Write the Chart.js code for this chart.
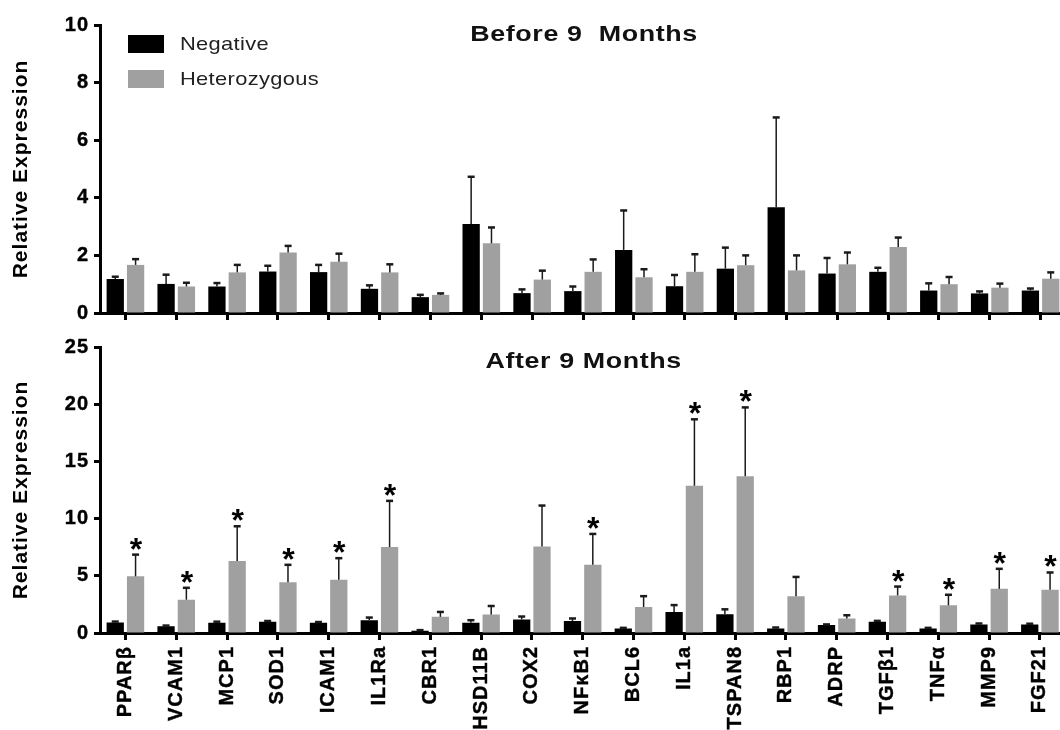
<!DOCTYPE html>
<html>
<head>
<meta charset="utf-8">
<title>Relative Expression – Before / After 9 Months</title>
<script src="https://cdn.jsdelivr.net/npm/chart.js@4.4.0/dist/chart.umd.min.js"></script>
<style>
  html, body { margin: 0; padding: 0; background: #fff; overflow: hidden; width: 1060px; height: 730px; }
  #wrap { position: relative; width: 1060px; height: 730px; overflow: hidden; }
  canvas { position: absolute; left: 0; }
  #before { top: 0; }
  #after { top: 330px; }
</style>
</head>
<body>
<div id="wrap">
  <canvas id="before" width="1070" height="330"></canvas>
  <canvas id="after" width="1070" height="400"></canvas>
</div>
<script>
// ---- data -------------------------------------------------------------
const genes = ['PPARβ', 'VCAM1', 'MCP1', 'SOD1', 'ICAM1', 'IL1Ra', 'CBR1', 'HSD11B', 'COX2',
               'NFκB1', 'BCL6', 'IL1a', 'TSPAN8', 'RBP1', 'ADRP', 'TGFβ1', 'TNFα', 'MMP9', 'FGF21'];

const seriesNames = ['Negative', 'Heterozygous'];

// Before 9 months: mean and SEM
const beforeNegative    = [1.18, 1.01, 0.92, 1.44, 1.42, 0.84, 0.55, 3.09, 0.69, 0.76, 2.19, 0.93, 1.54, 3.67, 1.37, 1.43, 0.78, 0.68, 0.78];
const beforeNegativeSem = [0.08, 0.32, 0.12, 0.20, 0.25, 0.12, 0.08, 1.64, 0.13, 0.16, 1.37, 0.39, 0.73, 3.12, 0.54, 0.14, 0.25, 0.07, 0.07];
const beforeHetero      = [1.67, 0.92, 1.41, 2.10, 1.78, 1.41, 0.63, 2.42, 1.16, 1.43, 1.24, 1.43, 1.66, 1.48, 1.69, 2.29, 1.00, 0.88, 1.19];
const beforeHeteroSem   = [0.20, 0.13, 0.26, 0.23, 0.28, 0.28, 0.05, 0.55, 0.31, 0.43, 0.28, 0.61, 0.34, 0.52, 0.41, 0.33, 0.25, 0.14, 0.22];

// After 9 months: mean and SEM
const afterNegative     = [0.92, 0.60, 0.89, 0.98, 0.89, 1.12, 0.20, 0.89, 1.18, 1.04, 0.40, 1.84, 1.64, 0.40, 0.69, 0.98, 0.40, 0.75, 0.75];
const afterNegativeSem  = [0.08, 0.05, 0.10, 0.07, 0.07, 0.23, 0.05, 0.23, 0.26, 0.23, 0.05, 0.60, 0.43, 0.08, 0.06, 0.08, 0.05, 0.08, 0.06];
const afterHetero       = [4.95, 2.91, 6.30, 4.43, 4.66, 7.51, 1.41, 1.61, 7.57, 5.96, 2.27, 12.87, 13.70, 3.22, 1.27, 3.28, 2.42, 3.86, 3.77];
const afterHeteroSem    = [1.90, 1.04, 3.03, 1.53, 1.88, 4.04, 0.43, 0.75, 3.57, 2.70, 0.95, 5.81, 6.02, 1.68, 0.28, 0.78, 0.92, 1.75, 1.52];

// significance markers (*) on the heterozygous bars after 9 months
const afterSignificant  = [1, 1, 1, 1, 1, 1, 0, 0, 0, 1, 0, 1, 1, 0, 0, 1, 1, 1, 1];

// y-axis tick labels
const beforeTicks = [0, 2, 4, 6, 8, 10];
const afterTicks  = [0, 5, 10, 15, 20, 25];

// ---- styling ----------------------------------------------------------
const FONT = '"Liberation Sans", Arial, Helvetica, sans-serif';
const BLACK = '#000000';
const GREY = '#a0a0a0';

// scale text is drawn slightly tracked out
const trackedScales = {
  id: 'trackedScales',
  beforeDraw(chart) { chart.ctx.letterSpacing = '1px'; },
  beforeDatasetsDraw(chart) { chart.ctx.letterSpacing = '0px'; }
};

// SEM whiskers (upper only) and significance stars
const errorBars = {
  id: 'errorBars',
  afterDatasetsDraw(chart) {
    const ctx = chart.ctx;
    const yScale = chart.scales.y;
    ctx.save();
    ctx.letterSpacing = '0px';
    chart.data.datasets.forEach((ds, d) => {
      const meta = chart.getDatasetMeta(d);
      meta.data.forEach((bar, i) => {
        const top = yScale.getPixelForValue(ds.data[i] + ds.errors[i]);
        ctx.strokeStyle = '#1a1a1a';
        ctx.lineWidth = 1.5;
        ctx.beginPath();
        ctx.moveTo(bar.x, bar.y);
        ctx.lineTo(bar.x, top);
        ctx.stroke();
        ctx.lineWidth = 2.5;
        ctx.beginPath();
        ctx.moveTo(bar.x - 3.5, top);
        ctx.lineTo(bar.x + 3.5, top);
        ctx.stroke();
        if (ds.significant && ds.significant[i]) {
          ctx.fillStyle = '#000';
          ctx.font = 'bold 32px ' + FONT;
          ctx.textAlign = 'center';
          ctx.textBaseline = 'alphabetic';
          ctx.fillText('*', bar.x + 0.5, top + 5);
        }
      });
    });
    ctx.restore();
  }
};

// draws text widened horizontally around an anchor point
function wideText(ctx, text, x, y, stretch, align) {
  ctx.save();
  ctx.translate(x, y);
  ctx.scale(stretch, 1);
  ctx.textAlign = align;
  ctx.fillText(text, 0, 0);
  ctx.restore();
}

// panel heading drawn inside the plot area
const panelTitle = {
  id: 'panelTitle',
  afterDraw(chart, args, opts) {
    if (!opts.text) return;
    const ctx = chart.ctx;
    const area = chart.chartArea;
    ctx.save();
    ctx.letterSpacing = '0.5px';
    ctx.font = 'bold 22px ' + FONT;
    ctx.fillStyle = '#111';
    ctx.textBaseline = 'middle';
    wideText(ctx, opts.text, (area.left + area.right) / 2 + 1, area.top + opts.offset, 1.22, 'center');
    ctx.restore();
  }
};

// legend with wide swatches in the upper-left corner of the plot
const boxLegend = {
  id: 'boxLegend',
  afterDraw(chart, args, opts) {
    if (!opts.display) return;
    const ctx = chart.ctx;
    const area = chart.chartArea;
    ctx.save();
    ctx.letterSpacing = '0.3px';
    ctx.font = '19px ' + FONT;
    ctx.textBaseline = 'middle';
    chart.data.datasets.forEach((ds, d) => {
      const x = area.left + 28;
      const y = area.top + 10 + d * 35;
      ctx.fillStyle = ds.backgroundColor;
      ctx.fillRect(x, y, 36, 18);
      ctx.fillStyle = '#222';
      wideText(ctx, ds.label, x + 52, y + 9.5, 1.15, 'left');
    });
    ctx.restore();
  }
};

function panel(canvasId, negative, negativeSem, hetero, heteroSem, significant, ticks, opts) {
  const step = ticks[1] - ticks[0];
  return new Chart(document.getElementById(canvasId), {
    type: 'bar',
    data: {
      labels: genes,
      datasets: [
        { label: seriesNames[0], data: negative, errors: negativeSem, backgroundColor: BLACK,
          borderWidth: 0, barPercentage: 0.85, categoryPercentage: 0.8 },
        { label: seriesNames[1], data: hetero, errors: heteroSem, significant: significant,
          backgroundColor: GREY, borderWidth: 0, barPercentage: 0.85, categoryPercentage: 0.8 }
      ]
    },
    options: {
      responsive: false,
      devicePixelRatio: 1,
      animation: false,
      events: [],
      layout: { padding: { top: opts.padTop, right: 4, left: 0, bottom: 0 } },
      plugins: {
        legend: { display: false },
        tooltip: { enabled: false },
        title: { display: false },
        panelTitle: { text: opts.title, offset: opts.titleOffset },
        boxLegend: { display: opts.legend }
      },
      scales: {
        x: {
          offset: true,
          grid: { display: true, offset: false, drawOnChartArea: false, drawTicks: true,
                  tickLength: 7, tickWidth: 3, tickColor: '#000', color: '#000' },
          border: { display: true, color: '#000', width: 3 },
          ticks: {
            display: opts.showLabels,
            autoSkip: false,
            minRotation: 90,
            maxRotation: 90,
            padding: 6,
            color: '#000',
            textStrokeColor: '#000',
            textStrokeWidth: 0.4,
            font: { family: FONT, size: 20, weight: 'bold' }
          },
          afterFit(scale) { scale.height = opts.xHeight; }
        },
        y: {
          min: ticks[0],
          max: ticks[ticks.length - 1],
          ticks: { stepSize: step, color: '#000', padding: 5,
                   textStrokeColor: '#000', textStrokeWidth: 0.4,
                   font: { family: FONT, size: 20, weight: 'bold' } },
          grid: { display: true, drawOnChartArea: false, drawTicks: true,
                  tickLength: 6, tickWidth: 3, tickColor: '#000', color: '#000' },
          border: { display: true, color: '#000', width: 3 },
          title: { display: true, text: 'Relative Expression', color: '#000',
                   padding: { top: 9, bottom: 0 },
                   font: { family: FONT, size: 21, weight: 'bold' } },
          afterFit(scale) { scale.width = 100; }
        }
      }
    },
    plugins: [trackedScales, errorBars, panelTitle, boxLegend]
  });
}

panel('before', beforeNegative, beforeNegativeSem, beforeHetero, beforeHeteroSem, null, beforeTicks,
      { title: 'Before 9  Months', titleOffset: 10, legend: true, showLabels: false, xHeight: 14, padTop: 25 });

panel('after', afterNegative, afterNegativeSem, afterHetero, afterHeteroSem, afterSignificant, afterTicks,
      { title: 'After 9 Months', titleOffset: 15, legend: false, showLabels: true, xHeight: 97, padTop: 13 });
</script>
</body>
</html>
